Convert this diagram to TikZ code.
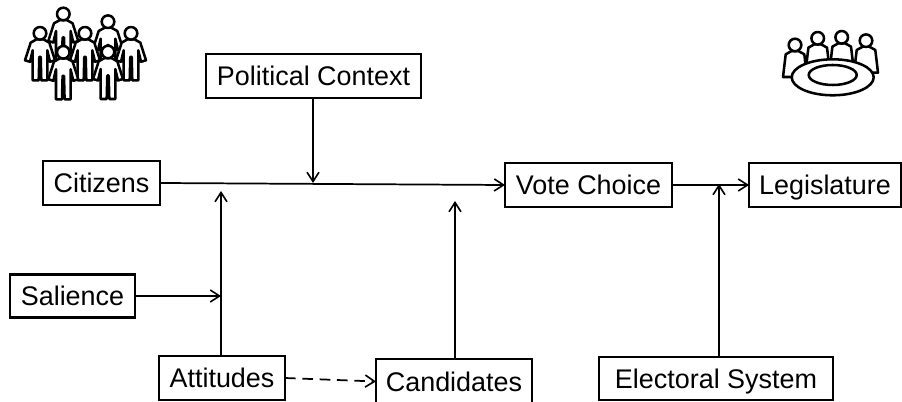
\documentclass[tikz,border=0pt]{standalone}
\usepackage{fontspec}
\setmainfont{Liberation Sans}
\usetikzlibrary{arrows.meta}
\tikzset{
  box/.style={draw=black,line width=1.6pt,fill=white,inner sep=0pt,outer sep=0pt,anchor=north west,font=\fontsize{20.2}{24}\selectfont,align=center,text height=14.6pt,text depth=0pt},
  conn/.style={draw=black,line width=1.3pt,-{Straight Barb[length=7pt,width=9pt,line width=1.2pt]}},
  icon/.style={draw=black,line width=1.9pt,fill=white,line join=round},
  person/.pic={
    \path[icon] (-3.3,6) -- (-9.3,9.3) -- (-15,27) -- (-10,28.5) -- (-7.3,17) -- (-7.3,47) -- (-1.3,47) -- (-0.7,23.5) -- (0.7,23.5) -- (1.3,47) -- (7.3,47) -- (7.3,17) -- (10,28.5) -- (15,27) -- (9.3,9.3) -- (3.3,6) -- cycle;
    \path[icon] (0,0) circle[radius=6.3];
  },
  sitter/.pic={
    \path[icon] (-3.3,6) -- (-9.3,9.3) -- (-12,32) -- (12,32) -- (9.3,9.3) -- (3.3,6) -- cycle;
    \path[icon] (0,0) circle[radius=6.3];
  }
}
\begin{document}
\begin{tikzpicture}[x=0.75pt,y=-0.75pt]
\useasboundingbox (0,0) rectangle (902,402);
\clip (0,0) rectangle (902,402);
\pic at (63.3,14) {person};
\pic at (108,21.7) {person};
\pic at (40,33.3) {person};
\pic at (85,33.3) {person};
\pic at (131,33.3) {person};
\pic at (63.3,52.3) {person};
\pic at (108,52) {person};
\pic at (795,45) {sitter};
\pic at (817.7,38.3) {sitter};
\pic at (841.7,37.3) {sitter};
\pic at (866,40.7) {sitter};
\path[icon] (832.7,77.3) ellipse[x radius=41,y radius=18];
\path[icon] (832.7,75) ellipse[x radius=24,y radius=10];
\node[box,minimum width=161.25pt,minimum height=33pt] (pc) at (206,54) {Political Context};
\node[box,minimum width=87.75pt,minimum height=33pt] (cit) at (43,161) {Citizens};
\node[box,minimum width=125.25pt,minimum height=33pt] (vc) at (505,163) {Vote Choice};
\node[box,minimum width=114pt,minimum height=33pt] (leg) at (749,163) {Legislature};
\node[box,minimum width=93.75pt,minimum height=32.25pt] (sal) at (10,274.5) {Salience};
\node[box,minimum width=94.5pt,minimum height=33pt] (att) at (159,356) {Attitudes};
\node[box,minimum width=117pt,minimum height=33.75pt] (cand) at (376,359) {Candidates};
\node[box,minimum width=175.5pt,minimum height=32.25pt] (es) at (599,357) {Electoral System};
\coordinate (pj) at (313,183);
\coordinate (aj) at (221,191);
\coordinate (sj) at (221,296);
\coordinate (cj) at (455,201);
\coordinate (ej) at (719,184);
\draw[conn] (cit.east) -- (vc.west);
\draw[conn] (pc.south -| pj) -- (pj);
\draw[conn] (vc.east) -- (leg.west);
\draw[conn] (att.north -| aj) -- (aj);
\draw[conn] (sal.east) -- (sal.east -| sj);
\draw[conn] (cand.north -| cj) -- (cj);
\draw[conn] (es.north -| ej) -- (ej);
\draw[conn,dash pattern=on 8pt off 5pt] (att.east) -- (cand.west);
\end{tikzpicture}
\end{document}
